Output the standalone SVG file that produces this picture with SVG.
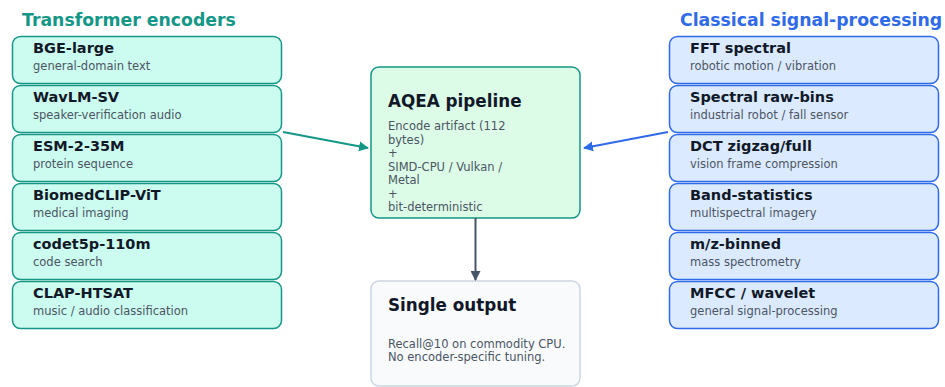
<svg xmlns="http://www.w3.org/2000/svg" width="945" height="387" viewBox="0 0 945 387">
  <defs>
    <style>
      text { font-family: "DejaVu Sans", "Noto Sans", sans-serif; }
      .hdr { font-size: 17.3px; font-weight: bold; }
      .nm { font-size: 14.5px; font-weight: bold; fill: #111827; }
      .sub { font-size: 11.5px; fill: #4b5563; }
      .tf rect { fill: #ccfbef; stroke: #149786; stroke-width: 1.5; }
      .sp rect { fill: #dbeafe; stroke: #2f6ae8; stroke-width: 1.5; }
      .ttl { font-size: 16.8px; font-weight: bold; fill: #111827; }
      .body { font-size: 11.5px; fill: #4b5563; }
    </style>
    <marker id="ahTeal" viewBox="0 0 10 10" refX="9" refY="5" markerWidth="10" markerHeight="10" markerUnits="userSpaceOnUse" orient="auto">
      <path d="M0,0 L10,5 L0,10 z" fill="#149786"/>
    </marker>
    <marker id="ahBlue" viewBox="0 0 10 10" refX="9" refY="5" markerWidth="10" markerHeight="10" markerUnits="userSpaceOnUse" orient="auto">
      <path d="M0,0 L10,5 L0,10 z" fill="#2f6ae8"/>
    </marker>
    <marker id="ahSlate" viewBox="0 0 10 10" refX="9" refY="5" markerWidth="10" markerHeight="10" markerUnits="userSpaceOnUse" orient="auto">
      <path d="M0,0 L10,5 L0,10 z" fill="#475569"/>
    </marker>
  </defs>
  <rect width="945" height="387" fill="#ffffff"/>

  <!-- column headers -->
  <text class="hdr" x="22" y="26" fill="#149786">Transformer encoders</text>
  <text class="hdr" x="680" y="26" fill="#2f6ae8">Classical signal-processing</text>

  <!-- transformer encoder column -->
  <g id="bge" class="tf"><rect x="12.5" y="36.5" width="269" height="47" rx="8"/><text class="nm" x="33" y="53">BGE-large</text><text class="sub" x="33" y="70">general-domain text</text></g>
  <g id="wavlm" class="tf"><rect x="12.5" y="85.5" width="269" height="47" rx="8"/><text class="nm" x="33" y="102">WavLM-SV</text><text class="sub" x="33" y="119">speaker-verification audio</text></g>
  <g id="esm" class="tf"><rect x="12.5" y="134.5" width="269" height="47" rx="8"/><text class="nm" x="33" y="151">ESM-2-35M</text><text class="sub" x="33" y="168">protein sequence</text></g>
  <g id="biomedclip" class="tf"><rect x="12.5" y="183.5" width="269" height="47" rx="8"/><text class="nm" x="33" y="200">BiomedCLIP-ViT</text><text class="sub" x="33" y="217">medical imaging</text></g>
  <g id="codet5p" class="tf"><rect x="12.5" y="232.5" width="269" height="47" rx="8"/><text class="nm" x="33" y="249">codet5p-110m</text><text class="sub" x="33" y="266">code search</text></g>
  <g id="clap" class="tf"><rect x="12.5" y="281.5" width="269" height="47" rx="8"/><text class="nm" x="33" y="298">CLAP-HTSAT</text><text class="sub" x="33" y="315">music / audio classification</text></g>

  <!-- classical signal-processing column -->
  <g id="fft" class="sp"><rect x="669.5" y="36.5" width="269" height="47" rx="8"/><text class="nm" x="690" y="53">FFT spectral</text><text class="sub" x="690" y="70">robotic motion / vibration</text></g>
  <g id="rawbins" class="sp"><rect x="669.5" y="85.5" width="269" height="47" rx="8"/><text class="nm" x="690" y="102">Spectral raw-bins</text><text class="sub" x="690" y="119">industrial robot / fall sensor</text></g>
  <g id="dct" class="sp"><rect x="669.5" y="134.5" width="269" height="47" rx="8"/><text class="nm" x="690" y="151">DCT zigzag/full</text><text class="sub" x="690" y="168">vision frame compression</text></g>
  <g id="bandstats" class="sp"><rect x="669.5" y="183.5" width="269" height="47" rx="8"/><text class="nm" x="690" y="200">Band-statistics</text><text class="sub" x="690" y="217">multispectral imagery</text></g>
  <g id="mz" class="sp"><rect x="669.5" y="232.5" width="269" height="47" rx="8"/><text class="nm" x="690" y="249">m/z-binned</text><text class="sub" x="690" y="266">mass spectrometry</text></g>
  <g id="mfcc" class="sp"><rect x="669.5" y="281.5" width="269" height="47" rx="8"/><text class="nm" x="690" y="298">MFCC / wavelet</text><text class="sub" x="690" y="315">general signal-processing</text></g>

  <!-- central pipeline -->
  <g id="pipeline">
    <rect x="371" y="67" width="209" height="151" rx="8" fill="#dcfce8" stroke="#149786" stroke-width="1.5"/>
    <text class="ttl" x="388" y="107">AQEA pipeline</text>
    <text class="body" x="388" y="130">Encode artifact (112</text>
    <text class="body" x="388" y="143.5">bytes)</text>
    <text class="body" x="388" y="157">+</text>
    <text class="body" x="388" y="170.5">SIMD-CPU / Vulkan /</text>
    <text class="body" x="388" y="184">Metal</text>
    <text class="body" x="388" y="197.5">+</text>
    <text class="body" x="388" y="211">bit-deterministic</text>
  </g>

  <!-- result -->
  <g id="output">
    <rect x="371" y="281" width="209" height="105" rx="8" fill="#f8fafc" stroke="#cbd5e1" stroke-width="1.5"/>
    <text class="ttl" x="388" y="311">Single output</text>
    <text class="body" x="388" y="348">Recall@10 on commodity CPU.</text>
    <text class="body" x="388" y="361">No encoder-specific tuning.</text>
  </g>

  <!-- connectors -->
  <g id="connectors" fill="none" stroke-width="2">
    <line x1="283" y1="132" x2="368" y2="148" stroke="#149786" marker-end="url(#ahTeal)"/>
    <line x1="668" y1="132" x2="584" y2="148" stroke="#2f6ae8" marker-end="url(#ahBlue)"/>
    <line x1="475.5" y1="218" x2="475.5" y2="280" stroke="#475569" marker-end="url(#ahSlate)"/>
  </g>
</svg>
